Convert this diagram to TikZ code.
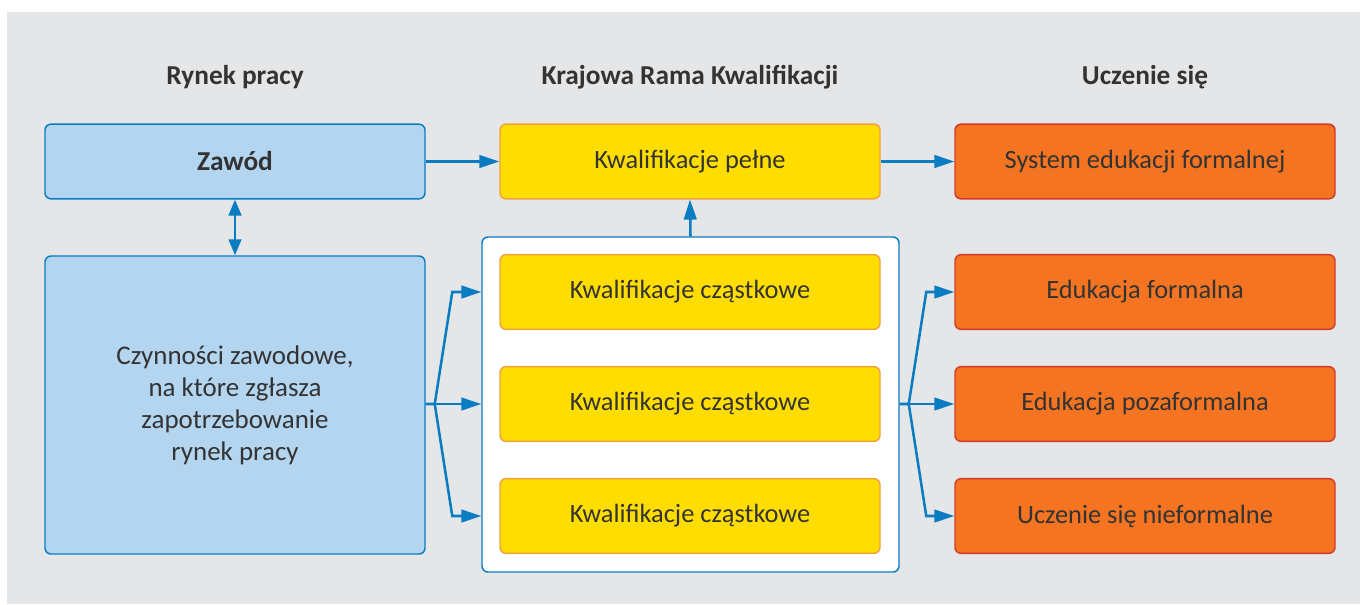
\documentclass[tikz,border=0pt]{standalone}
\usepackage{fontspec}
\setmainfont{Carlito}
\usetikzlibrary{arrows.meta,calc}
\definecolor{bgc}{HTML}{E5E6E8}
\definecolor{bluel}{HTML}{0A7CC1}
\definecolor{bluef}{HTML}{B3D5F0}
\definecolor{yelf}{HTML}{FFDD00}
\definecolor{yelb}{HTML}{F5A040}
\definecolor{orf}{HTML}{F47421}
\definecolor{orb}{HTML}{D23A2E}
\definecolor{txt}{HTML}{333333}
\tikzset{
  box/.style={rounded corners=4.5pt, line width=1.1pt, minimum width=285pt, minimum height=56pt, text=txt, font=\fontsize{19.8}{24}\selectfont, inner sep=0pt, align=center},
  bluebox/.style={box, draw=bluel, fill=bluef},
  yelbox/.style={box, draw=yelb, fill=yelf},
  orbox/.style={box, draw=orb, fill=orf},
  title/.style={text=txt, font=\fontsize{20.5}{24}\selectfont\bfseries},
  arr/.style={draw=bluel, line width=1.9pt, -{Triangle[length=15pt,width=9.5pt]}},
  darr/.style={draw=bluel, line width=1.9pt, {Triangle[length=12pt,width=9.5pt]}-{Triangle[length=12pt,width=9.5pt]}}
}
\begin{document}
\begin{tikzpicture}[x=0.75pt,y=-0.75pt]
\useasboundingbox (0,0) rectangle (1360,604);
\fill[bgc] (7,12) rectangle (1360,604);
% titles
\node[title] (t1) at (235,77) {Rynek pracy};
\node[title] (t2) at (690,77) {Krajowa Rama Kwalifikacji};
\node[title] (t3) at (1145,77) {Uczenie się};
% container
\node[draw=bluel, fill=white, line width=1.1pt, rounded corners=4.5pt, minimum width=312.75pt, minimum height=251.25pt, inner sep=0pt] (cont) at (690.5,404.5) {};
% left column
\node[bluebox, font=\fontsize{20.5}{24}\selectfont\bfseries] (zaw) at (235,161.5) {Zawód};
\node[bluebox, minimum height=223.5pt, font=\fontsize{20.2}{24}\selectfont] (czyn) at (235,405) {Czynności zawodowe,\\na które zgłasza\\zapotrzebowanie\\rynek pracy};
% middle column
\node[yelbox] (pel) at (690,161.5) {Kwalifikacje pełne};
\node[yelbox] (k1) at (690,292) {Kwalifikacje cząstkowe};
\node[yelbox] (k2) at (690,404) {Kwalifikacje cząstkowe};
\node[yelbox] (k3) at (690,516) {Kwalifikacje cząstkowe};
% right column
\node[orbox] (s0) at (1145,161.5) {System edukacji formalnej};
\node[orbox] (s1) at (1145,292) {Edukacja formalna};
\node[orbox] (s2) at (1145,404) {Edukacja pozaformalna};
\node[orbox] (s3) at (1145,516) {Uczenie się nieformalne};
% connectors
\draw[arr] (zaw.east) -- (pel.west);
\draw[arr] (pel.east) -- (s0.west);
\draw[darr] (zaw.south) -- (czyn.north);
\draw[arr] (cont.north) -- (pel.south);
% left fan
\coordinate (bl) at ($(czyn.east |- k2)+(9,0)$);
\draw[arr] (czyn.east |- k2) -- (bl) -- ($(cont.west |- k1)+(-29,0)$) -- (cont.west |- k1);
\draw[arr] (czyn.east |- k2) -- (cont.west |- k2);
\draw[arr] (bl) -- ($(cont.west |- k3)+(-29,0)$) -- (cont.west |- k3);
% right fan
\coordinate (br) at ($(cont.east |- k2)+(9,0)$);
\draw[arr] (cont.east |- k2) -- (br) -- ($(s1.west)+(-28,0)$) -- (s1.west);
\draw[arr] (cont.east |- k2) -- (s2.west);
\draw[arr] (br) -- ($(s3.west)+(-28,0)$) -- (s3.west);
\end{tikzpicture}
\end{document}
